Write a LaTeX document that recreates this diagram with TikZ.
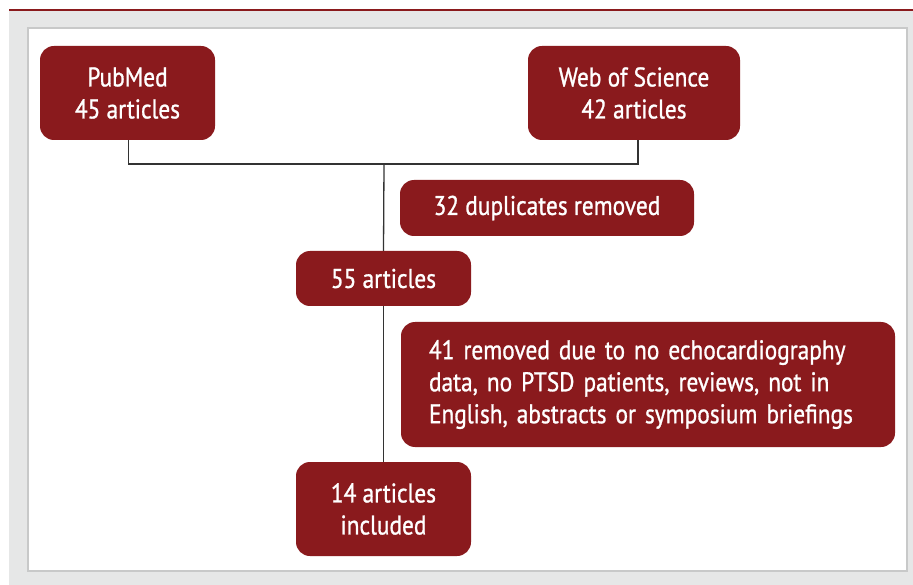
\documentclass[tikz,border=0pt]{standalone}
\usepackage{fontspec}
\setmainfont[FakeStretch=0.865,FakeBold=1]{PT Sans}
\definecolor{boxred}{HTML}{8A1A1D}
\definecolor{panelgrey}{HTML}{E6E7E7}
\definecolor{bordergrey}{HTML}{C8C9C9}
\definecolor{linegrey}{HTML}{333333}
\begin{document}
\begin{tikzpicture}[x=1pt,y=-1pt,
  rbox/.style={fill=boxred,draw=none,rounded corners=14pt,text=white,
    font=\fontsize{27}{32}\selectfont,align=center,inner sep=0pt},
  conn/.style={draw=linegrey,line width=1.3pt}]
\useasboundingbox (0,0) rectangle (913,585);
\fill[panelgrey] (9,11) rectangle (913,585);
\draw[boxred,line width=2pt] (9,9.8) -- (913,9.8);
\draw[bordergrey,fill=white,line width=2pt] (28,28) rectangle (907,571);
\node[rbox,minimum width=175pt,minimum height=94pt] (pub) at (127.5,93) {PubMed\\45 articles};
\node[rbox,minimum width=212pt,minimum height=94pt] (wos) at (634,93) {Web of Science\\42 articles};
\node[rbox,minimum width=294pt,minimum height=56pt] (dup) at (547,208) {32 duplicates removed};
\node[rbox,minimum width=175pt,minimum height=55pt] (n55) at (383.5,278.5) {55 articles};
\node[rbox,minimum width=494pt,minimum height=125pt,align=left,text width=438pt] (rem) at (648,384.5) {41 removed due to no echocardiography\\data, no PTSD patients, reviews, not in\\English, abstracts or symposium briefings};
\node[rbox,minimum width=175pt,minimum height=94pt] (n14) at (383.5,509) {14 articles\\included};
\coordinate (join) at (384,164);
\draw[conn] ([xshift=1pt]pub.south) |- (join) -| ([xshift=4pt]wos.south);
\draw[conn] (join) -- (n55.north);
\draw[conn] (n55.south) -- (n14.north);
\end{tikzpicture}
\end{document}
